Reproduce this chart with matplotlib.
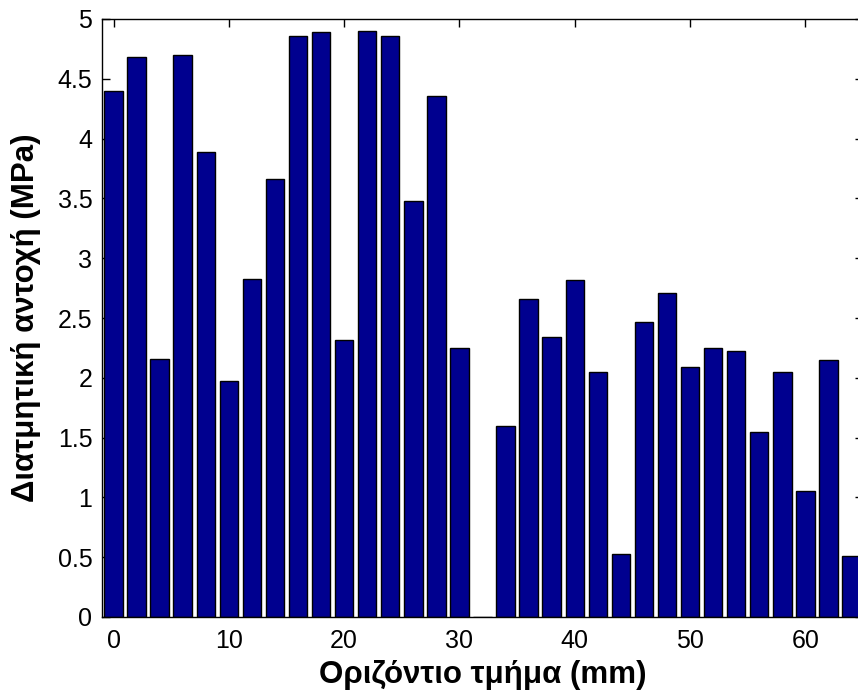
import matplotlib
matplotlib.use("Agg")
import matplotlib.pyplot as plt

# Horizontal position along the section (mm) and measured shear strength (MPa)
position_mm = list(range(0, 66, 2))
shear_mpa = [4.40, 4.68, 2.16, 4.70, 3.89, 1.97, 2.83, 3.66, 4.86, 4.89,
             2.32, 4.90, 4.86, 3.48, 4.36, 2.25, 0.00, 1.60, 2.66, 2.34,
             2.82, 2.05, 0.53, 2.47, 2.71, 2.09, 2.25, 2.22, 1.55, 2.05,
             1.05, 2.15, 0.51]

x_ticks = [0, 10, 20, 30, 40, 50, 60]
y_ticks = [0, 0.5, 1, 1.5, 2, 2.5, 3, 3.5, 4, 4.5, 5]
y_ticklabels = ["0", "0.5", "1", "1.5", "2", "2.5", "3", "3.5", "4", "4.5", "5"]

plt.rcParams["font.family"] = ["Liberation Sans", "DejaVu Sans"]

W, H = 858, 698
fig = plt.figure(figsize=(W / 100, H / 100), dpi=100)
left, right, top, bottom = 102, 863, 19, 617
ax = fig.add_axes([left / W, (H - bottom) / H, (right - left) / W, (bottom - top) / H])

ax.bar(position_mm, shear_mpa, width=1.6, color="#00008F",
       edgecolor="black", linewidth=1.0, zorder=2)

ax.set_xlim(-1, 65)
ax.set_ylim(0, 5)
ax.set_xticks(x_ticks)
ax.set_yticks(y_ticks)
ax.set_yticklabels(y_ticklabels)

ax.tick_params(direction="in", length=6, width=1, top=True, right=True,
               labelsize=18, colors="black")
ax.tick_params(axis="y", pad=7)
ax.tick_params(axis="x", pad=9)
for s in ax.spines.values():
    s.set_linewidth(1.0)
    s.set_color("black")
    s.set_zorder(3)

ax.set_xlabel("Οριζόντιο τμήμα (mm)", fontsize=22.5, fontweight="bold")
ax.set_ylabel("Διατμητική αντοχή (MPa)", fontsize=22.5, fontweight="bold")
ax.xaxis.set_label_coords(0.5, (bottom - 675) / (bottom - top))
ax.xaxis.label.set_va("center")
ax.yaxis.set_label_coords((26 - left) / (right - left), 0.5)
ax.yaxis.label.set_va("center")

fig.savefig("out.png", dpi=100)
